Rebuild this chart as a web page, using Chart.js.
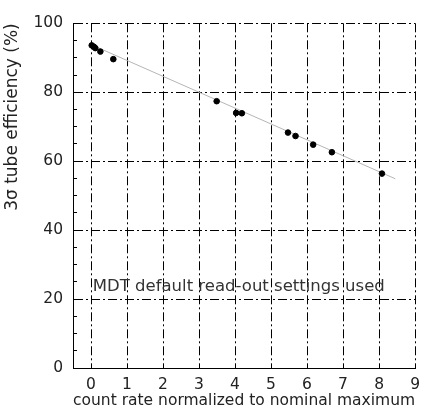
<html>
  <head>
    <meta charset="utf-8">
    <title>3 sigma tube efficiency</title>
    <script src="https://cdn.jsdelivr.net/npm/chart.js@4/dist/chart.umd.min.js"></script>
    <style>
      body { margin: 0; background: #fff; }
    </style>
  </head>
  <body>
    <canvas id="myChart" width="428" height="411"></canvas>
    <script type="text/javascript">
      // measured points (count rate, efficiency %)
      const rateX = [0.02, 0.08, 0.12, 0.26, 0.62, 3.49, 4.03, 4.19, 5.47, 5.68, 6.17, 6.69, 8.08];
      const effY = [93.6, 93.2, 92.8, 91.8, 89.6, 77.4, 74.0, 73.9, 68.3, 67.3, 64.8, 62.6, 56.4];
      // straight line fit
      const fitX = [0.05, 8.45];
      const fitY = [93.6, 54.9];
      const xTicks = [0, 1, 2, 3, 4, 5, 6, 7, 8, 9];
      const yTicks = [0, 20, 40, 60, 80, 100];
      const note = 'MDT default read-out settings used';

      const FONT = 'DejaVu Sans';
      const dashDot = [9, 3, 2, 3];

      // note text inside the plot
      const notePlugin = {
        id: 'note',
        afterDatasetsDraw(chart) {
          const ctx = chart.ctx;
          const x = chart.scales.x.getPixelForValue(0.05);
          const y = chart.scales.y.getPixelForValue(23.5);
          ctx.save();
          ctx.font = '16.5px ' + FONT;
          ctx.fillStyle = '#333';
          ctx.textAlign = 'left';
          ctx.textBaseline = 'middle';
          ctx.fillText(note, x, y);
          ctx.restore();
        }
      };

      var ctx = document.getElementById('myChart').getContext('2d');
      var chart = new Chart(ctx, {
          type: 'scatter',
          data: {
              datasets: [{
                  label: 'fit',
                  data: fitX.map((x, i) => ({x: x, y: fitY[i]})),
                  showLine: true,
                  borderColor: '#b5b5b5',
                  borderWidth: 1,
                  pointRadius: 0,
                  order: 2
              }, {
                  label: 'data',
                  data: rateX.map((x, i) => ({x: x, y: effY[i]})),
                  backgroundColor: '#000',
                  borderColor: '#000',
                  pointRadius: 2.8,
                  order: 1
              }]
          },
          options: {
              responsive: false,
              animation: false,
              layout: { padding: { left: 0, right: 3, top: 15, bottom: 0 } },
              plugins: {
                  legend: { display: false },
                  tooltip: { enabled: false }
              },
              scales: {
                  x: {
                      type: 'linear',
                      min: -0.5,
                      max: 9,
                      afterFit: s => { s.height = 43; },
                      afterBuildTicks: s => { s.ticks = xTicks.map(v => ({value: v})); },
                      ticks: {
                          includeBounds: false,
                          stepSize: 1,
                          padding: 8,
                          color: '#222',
                          font: { family: FONT, size: 15.5 }
                      },
                      grid: {
                          color: '#000',
                          lineWidth: 1,
                          drawTicks: false
                      },
                      border: { display: true, color: '#000', width: 1, dash: dashDot },
                      title: {
                          display: true,
                          text: 'count rate normalized to nominal maximum',
                          color: '#222',
                          font: { family: FONT, size: 16.3 },
                          padding: { top: 0, bottom: 0 }
                      }
                  },
                  y: {
                      min: 0,
                      max: 100,
                      afterFit: s => { s.width = 73; },
                      ticks: {
                          stepSize: 5,
                          autoSkip: false,
                          padding: 14,
                          color: '#222',
                          font: { family: FONT, size: 15.5 },
                          callback: v => yTicks.includes(v) ? v : ''
                      },
                      grid: {
                          color: c => (c.tick && c.tick.value % 20 === 0 && c.tick.value !== 0) ? '#000' : 'rgba(0,0,0,0)',
                          lineWidth: 1,
                          drawTicks: true,
                          tickLength: -4,
                          tickColor: '#000',
                          tickBorderDash: []
                      },
                      border: { display: true, color: '#000', width: 1, dash: dashDot },
                      title: {
                          display: true,
                          text: '3σ tube efficiency (%)',
                          align: 'end',
                          color: '#222',
                          font: { family: FONT, size: 17 },
                          padding: { top: 2, bottom: 0 }
                      }
                  }
              }
          },
          plugins: [notePlugin]
      });
    </script>
  </body>
</html>
